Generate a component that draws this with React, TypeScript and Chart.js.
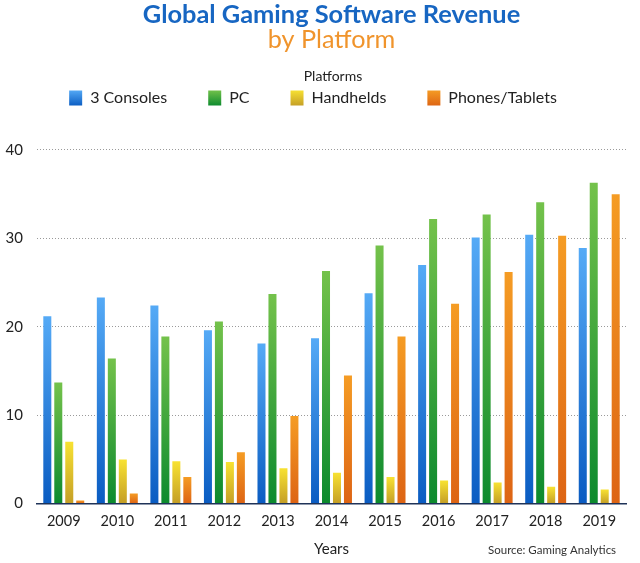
import React, { useEffect, useRef } from "react";
import { Chart, registerables, layouts } from "chart.js";

Chart.register(...registerables);

const years = ["2009", "2010", "2011", "2012", "2013", "2014", "2015", "2016", "2017", "2018", "2019"];
const consoles = [21.2, 23.3, 22.4, 19.6, 18.1, 18.7, 23.8, 27.0, 30.1, 30.4, 28.9];
const pc = [13.7, 16.4, 18.9, 20.6, 23.7, 26.3, 29.2, 32.2, 32.7, 34.1, 36.3];
const handhelds = [7.0, 5.0, 4.8, 4.7, 4.0, 3.5, 3.0, 2.6, 2.4, 1.9, 1.6];
const phones = [0.35, 1.15, 3.0, 5.8, 9.9, 14.5, 18.9, 22.6, 26.2, 30.3, 35.0];
const yTicks = [0, 10, 20, 30, 40];

const FONT = "Lato, 'Open Sans', sans-serif";

const palette = [
  { label: "3 Consoles", top: "#55aaf6", bottom: "#0a5cc2", data: consoles },
  { label: "PC", top: "#74c24b", bottom: "#0c8a2e", data: pc },
  { label: "Handhelds", top: "#f8e232", bottom: "#c49e26", data: handhelds },
  { label: "Phones/Tablets", top: "#f59c24", bottom: "#dd6414", data: phones },
];

const barGradient = (top: string, bottom: string) => (c: any) => {
  const chart = c.chart;
  const ys = chart.scales && chart.scales.y;
  if (c.type !== "data" || !ys || !chart.chartArea) return bottom;
  const yTop = ys.getPixelForValue(c.raw as number);
  const yBot = ys.getPixelForValue(0);
  if (!isFinite(yTop) || !isFinite(yBot) || Math.abs(yBot - yTop) < 0.5) return bottom;
  const g = chart.ctx.createLinearGradient(0, yTop, 0, yBot);
  g.addColorStop(0, top);
  g.addColorStop(1, bottom);
  return g;
};

const spacerPlugin = {
  id: "spacer",
  beforeInit(chart: any) {
    const box: any = {
      position: "top",
      weight: 0,
      fullSize: true,
      options: {},
      left: 0,
      top: 0,
      right: 0,
      bottom: 0,
      width: 0,
      height: 0,
      update(maxWidth: number) {
        this.width = maxWidth;
        this.height = 34;
      },
      isHorizontal() {
        return true;
      },
      draw() {},
    };
    layouts.addBox(chart, box);
  },
};

const notesPlugin = {
  id: "notes",
  afterDraw(chart: any) {
    const ctx = chart.ctx;
    ctx.save();
    ctx.fillStyle = "#222";
    ctx.textBaseline = "middle";
    ctx.textAlign = "center";
    ctx.font = `14px ${FONT}`;
    ctx.fillText("Platforms", 333, 76);
    ctx.textAlign = "left";
    ctx.font = `11.5px ${FONT}`;
    ctx.fillStyle = "#333";
    ctx.fillText("Source: Gaming Analytics", 488, 550);
    ctx.restore();
  },
};

export default function App() {
  const ref = useRef<HTMLCanvasElement | null>(null);

  useEffect(() => {
    if (!ref.current) return;
    const chart = new Chart(ref.current, {
      type: "bar",
      data: {
        labels: years,
        datasets: palette.map((p) => ({
          label: p.label,
          data: p.data,
          backgroundColor: barGradient(p.top, p.bottom),
          borderWidth: 0,
          categoryPercentage: 0.82,
          barPercentage: 0.73,
        })),
      },
      options: {
        animation: false,
        responsive: true,
        maintainAspectRatio: false,
        layout: { padding: { left: 0, right: 14, top: 0, bottom: 4 } },
        plugins: {
          title: {
            display: true,
            fullSize: false,
            text: "Global Gaming Software Revenue",
            color: "#1766c2",
            font: { family: FONT, size: 25.4, weight: "bold", lineHeight: 0.96 },
            padding: { top: 3, bottom: 0 },
          },
          subtitle: {
            display: true,
            fullSize: false,
            text: "by Platform",
            color: "#f0942c",
            font: { family: FONT, size: 25.2, weight: "normal", lineHeight: 0.96 },
            padding: { top: 0, bottom: 0 },
          },
          legend: {
            display: true,
            position: "top",
            title: {
              display: true,
              text: "",
              font: { family: FONT, size: 14, lineHeight: 1.2 },
              padding: { top: 0, bottom: -19.4 },
            },
            labels: {
              color: "#222",
              font: { family: FONT, size: 16 },
              boxWidth: 13,
              boxHeight: 15,
              padding: 41,
              generateLabels: (chart: any) =>
                palette.map((p, i) => {
                  const g = chart.ctx.createLinearGradient(0, 90, 0, 106);
                  g.addColorStop(0, p.top);
                  g.addColorStop(1, p.bottom);
                  return {
                    text: p.label,
                    fillStyle: g,
                    strokeStyle: "rgba(0,0,0,0)",
                    lineWidth: 0,
                    hidden: !chart.isDatasetVisible(i),
                    datasetIndex: i,
                    fontColor: "#222",
                  };
                }),
            },
          },
          tooltip: { enabled: false },
        },
        scales: {
          x: {
            grid: { display: false, drawTicks: false },
            border: { display: true, color: "#1f3358", width: 1.5 },
            ticks: { color: "#222", font: { family: FONT, size: 14.5 }, padding: 9 },
            title: {
              display: true,
              text: "Years",
              color: "#222",
              font: { family: FONT, size: 15, lineHeight: 1.2 },
              padding: { top: 1, bottom: 1 },
            },
          },
          y: {
            min: 0,
            max: 40,
            afterBuildTicks: (scale: any) => {
              scale.ticks = yTicks.map((v) => ({ value: v }));
            },
            afterFit: (scale: any) => {
              scale.width = 37;
            },
            grid: {
              drawTicks: false,
              color: (c: any) => (c.tick && c.tick.value === 0 ? "rgba(0,0,0,0)" : "#9a9a9a"),
              lineWidth: 1,
            },
            border: { display: false, dash: [1, 2] },
            ticks: { color: "#222", font: { family: FONT, size: 15 }, padding: 14 },
          },
        },
      },
      plugins: [spacerPlugin, notesPlugin],
    } as any);
    return () => chart.destroy();
  }, []);

  return (
    <div style={{ position: "absolute", left: 0, top: 0, width: 640, height: 563, background: "#fff" }}>
      <canvas ref={ref} />
    </div>
  );
}
